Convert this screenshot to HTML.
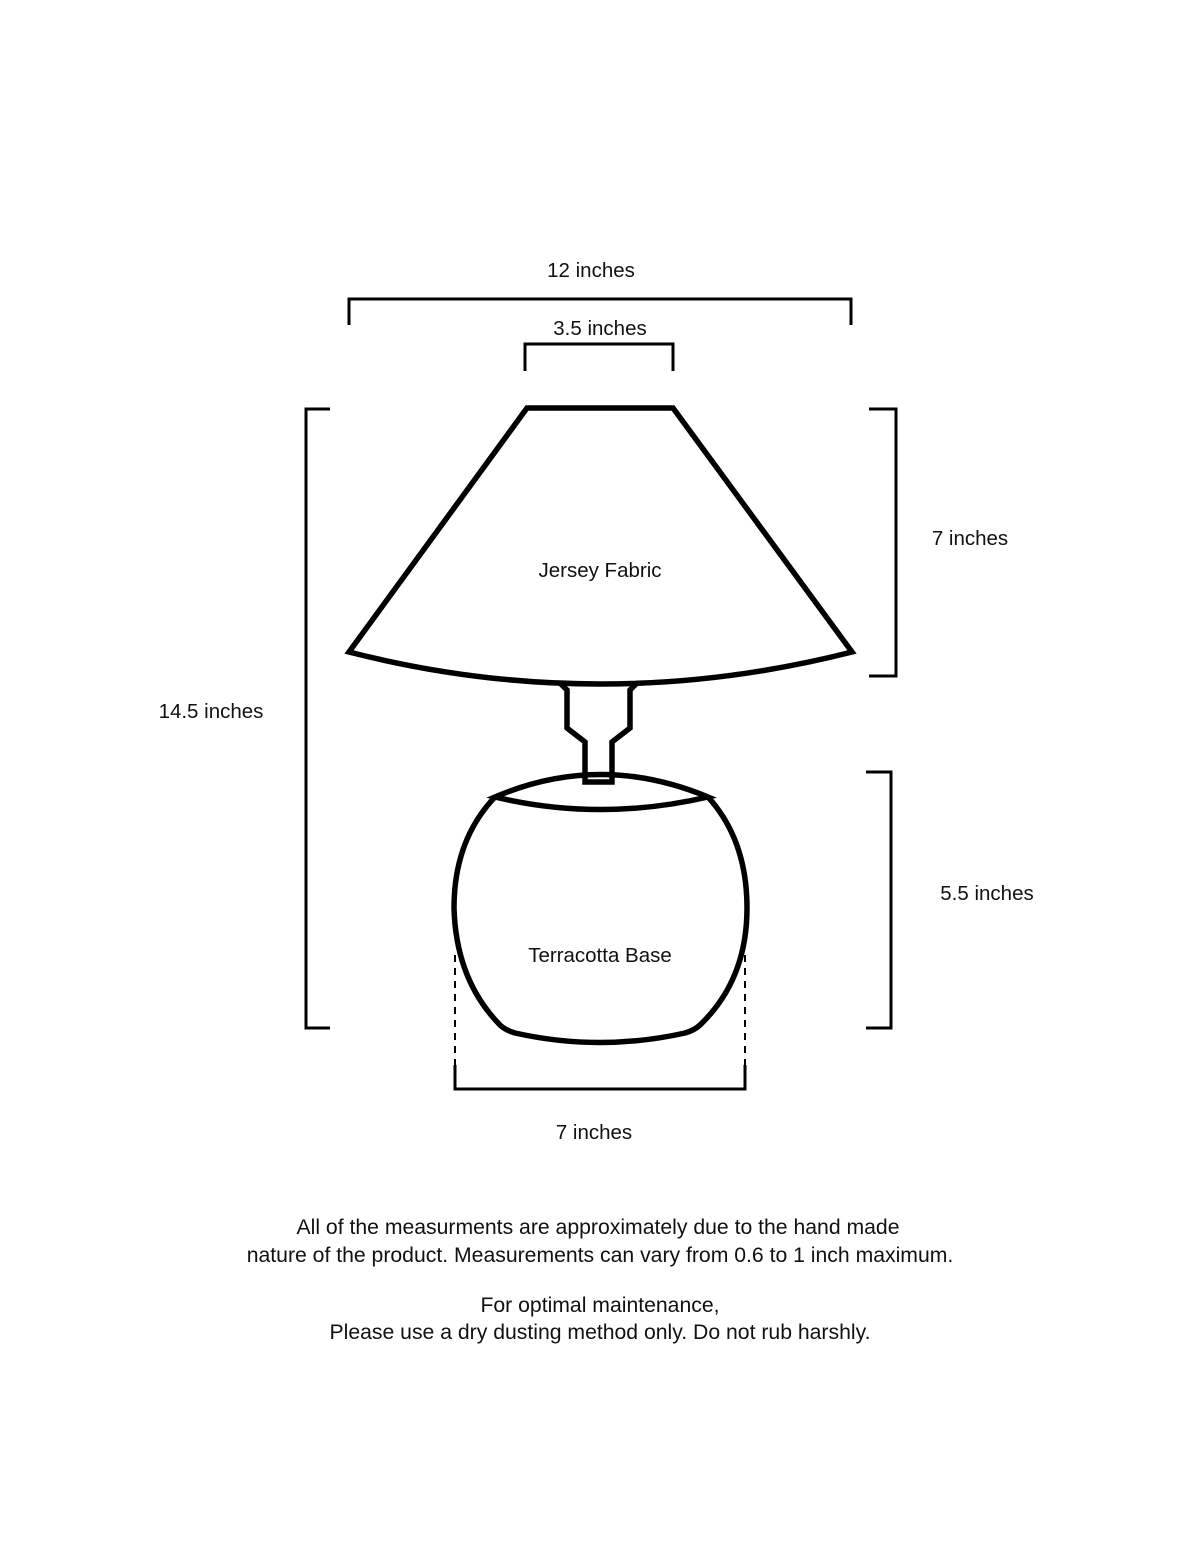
<!DOCTYPE html>
<html><head><style>
body{margin:0;background:#fff}
svg{display:block}
text{font-family:"Liberation Sans",sans-serif;font-size:20.5px;fill:#111}
.p{font-size:21.2px}
</style></head><body>
<svg width="1200" height="1553" viewBox="0 0 1200 1553">
<g fill="none" stroke="#000" stroke-width="3">
<path d="M349,325 V299 H851 V325"/>
<path d="M525,371 V344 H673 V371"/>
<path d="M330,409 H306 V1028 H330"/>
<path d="M869,409 H896 V676 H869"/>
<path d="M866,772 H891 V1028 H866"/>
<path d="M455,1065 V1089 H745 V1065"/>
<path d="M455,955 V1065 M745,955 V1065" stroke-width="2" stroke-dasharray="7,6"/>
</g>
<g fill="none" stroke="#000" stroke-width="5.5" stroke-linejoin="miter">
<path d="M527,408 H673 L852,652 Q600,716 349,652 Z"/>
<path d="M560,683 L567,690 V728 L585,742 V782 H612 V742 L630,728 V690 L637,683"/>
<path d="M495,797 Q600,752 708,797 Q600,822 495,797 Z"/>
<path d="M495,797 Q454,840 454,908 Q456,980 500,1025 Q505,1030 515,1033 Q600,1052 685,1033 Q695,1030 700,1025 Q747,980 747,908 Q747,840 708,797"/>
</g>
<text x="591" y="277" text-anchor="middle">12 inches</text>
<text x="600" y="335" text-anchor="middle">3.5 inches</text>
<text x="600" y="577" text-anchor="middle">Jersey Fabric</text>
<text x="970" y="545" text-anchor="middle">7 inches</text>
<text x="211" y="718" text-anchor="middle">14.5 inches</text>
<text x="987" y="900" text-anchor="middle">5.5 inches</text>
<text x="600" y="962" text-anchor="middle">Terracotta Base</text>
<text x="594" y="1139" text-anchor="middle">7 inches</text>
<text class="p" x="598" y="1234" text-anchor="middle">All of the measurments are approximately due to the hand made</text>
<text class="p" x="600" y="1262" text-anchor="middle">nature of the product. Measurements can vary from 0.6 to 1 inch maximum.</text>
<text class="p" x="600" y="1312" text-anchor="middle">For optimal maintenance,</text>
<text class="p" x="600" y="1339" text-anchor="middle">Please use a dry dusting method only. Do not rub harshly.</text>
</svg>
</body></html>
